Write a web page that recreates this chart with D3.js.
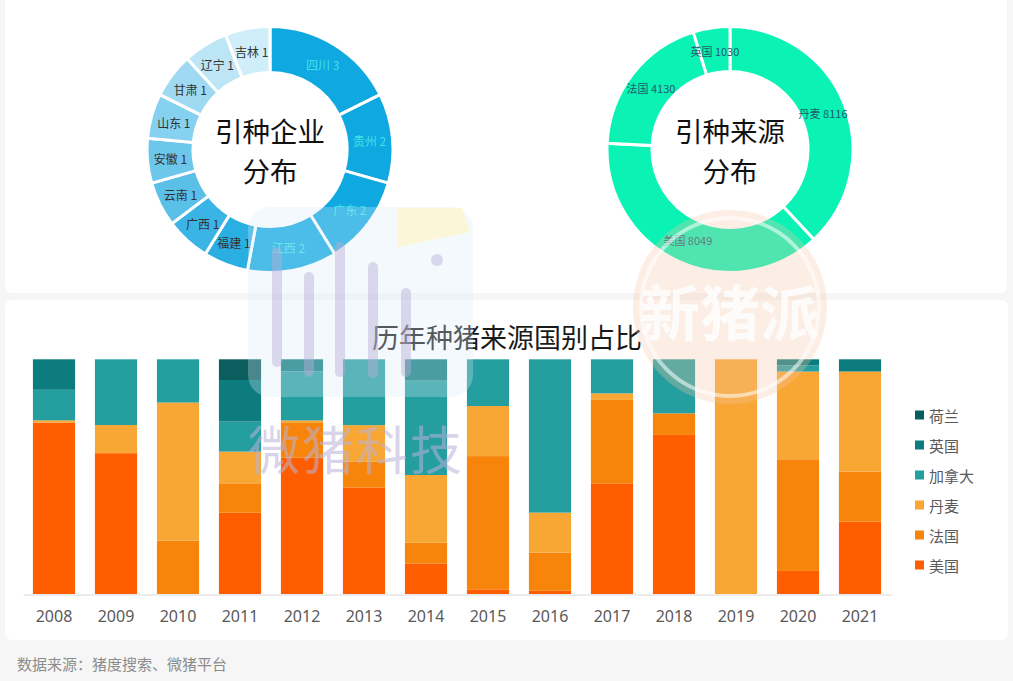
<!DOCTYPE html>
<html><head><meta charset="utf-8">
<script src="https://cdn.jsdelivr.net/npm/d3@7/dist/d3.min.js"></script>
<style>
html,body{margin:0;padding:0;background:#f6f6f6;}
svg{display:block;font-family:"Noto Sans CJK SC","Noto Sans",sans-serif;}
</style></head>
<body><svg id="c" width="1013" height="681"></svg>
<script>
// ---- data ----
const provinces = ["四川","贵州","广东","江西","福建","广西","云南","安徽","山东","甘肃","辽宁","吉林"];
const provinceCounts = [3,2,2,2,1,1,1,1,1,1,1,1];
const sourceCountries = ["丹麦","美国","法国","英国"];
const sourceCounts = [8116,8049,4130,1030];
const years = ["2008","2009","2010","2011","2012","2013","2014","2015","2016","2017","2018","2019","2020","2021"];
const seriesNames = ["美国","法国","丹麦","加拿大","英国","荷兰"];
const usa     = [73,60,0,34.6,58.4,45.2,13,2,1.4,47.1,67.7,0,9.8,30.8];
const france  = [0,0,22.7,12.5,15.2,11,8.8,56.7,16.2,35.5,9.2,0,47.5,21.3];
const denmark = [1,12,58.7,13.5,0.8,15.6,28.8,21.3,17,2.8,0,100,37.3,42.6];
const canada  = [13,28,18.4,12.8,21,28,40.1,19.9,65.2,14.5,23,0,2.6,0];
const uk      = [13,0,0,17.7,5.2,0,9.1,0,0,0,0,0,2.6,5.2];
const netherlands = [0,0,0,8.8,0,0,0,0,0,0,0,0,0,0];

const svg = d3.select("#c");

// cards
svg.append("rect").attr("x",5).attr("y",-8).attr("width",1002).attr("height",301).attr("rx",7).attr("fill","#fff");
svg.append("rect").attr("x",5).attr("y",300).attr("width",1003).attr("height",340).attr("rx",7).attr("fill","#fff");

// ---- left donut ----
const provColors = ["#10A8E1","#10A8E1","#10A8E1","#10A8E1","#2AAFE2","#3AB4E4","#5BC0E8","#6DC7EB","#86D1EF","#9FDAF2","#BCE5F6","#D0EEF9"];
const pie = d3.pie().sort(null).value(d=>d.v);
const provData = pie(provinces.map((p,i)=>({name:p,v:provinceCounts[i]})));
const arcL = d3.arc().innerRadius(77).outerRadius(123);
const labelArc = d3.arc().innerRadius(100).outerRadius(100);
const gL = svg.append("g").attr("transform","translate(270,149.5)");
gL.selectAll("path").data(provData).join("path")
  .attr("d",arcL).attr("fill",(d,i)=>provColors[i]).attr("stroke","#fff").attr("stroke-width",3);
gL.selectAll("text.lbl").data(provData).join("text").attr("class","lbl")
  .attr("transform",d=>`translate(${labelArc.centroid(d)})`)
  .attr("text-anchor","middle").attr("dominant-baseline","central")
  .attr("font-size",12).attr("fill",d=>d.data.v>1?"#3EE3E6":"#333")
  .text(d=>d.data.name+" "+d.data.v);
gL.append("text").attr("y",-19.5).attr("text-anchor","middle").attr("dominant-baseline","central")
  .attr("font-size",27.5).attr("fill","#111").text("引种企业");
gL.append("text").attr("y",20.5).attr("text-anchor","middle").attr("dominant-baseline","central")
  .attr("font-size",27.5).attr("fill","#111").text("分布");

// ---- right donut ----
const srcData = pie(sourceCountries.map((p,i)=>({name:p,v:sourceCounts[i]})));
const arcR = d3.arc().innerRadius(78).outerRadius(123);
const gR = svg.append("g").attr("transform","translate(730,149.5)");
gR.selectAll("path").data(srcData).join("path")
  .attr("d",arcR).attr("fill","#0AF3B5").attr("stroke","#fff").attr("stroke-width",3);
gR.selectAll("text.lbl").data(srcData).join("text").attr("class","lbl")
  .attr("transform",d=>`translate(${labelArc.centroid(d)})`)
  .attr("text-anchor","middle").attr("dominant-baseline","central")
  .attr("font-size",11).attr("fill","#245a6e")
  .text(d=>d.data.name+" "+d.data.v);
gR.append("text").attr("y",-19.5).attr("text-anchor","middle").attr("dominant-baseline","central")
  .attr("font-size",27.5).attr("fill","#111").text("引种来源");
gR.append("text").attr("y",20.5).attr("text-anchor","middle").attr("dominant-baseline","central")
  .attr("font-size",27.5).attr("fill","#111").text("分布");

// ---- stacked bars ----
const colors = ["#FF5E00","#F7850B","#F8A634","#249E9F","#0C7C7E","#0B5D5E"];
const seriesArrays = [usa,france,denmark,canada,uk,netherlands];
const rows = years.map((y,i)=>{const r={year:y}; seriesNames.forEach((s,j)=>r[s]=seriesArrays[j][i]); return r;});
const stack = d3.stack().keys(seriesNames).offset(d3.stackOffsetExpand);
const stacked = stack(rows);
const x = d3.scaleBand().domain(years).range([23,891]).paddingInner(0.32).paddingOuter(0.16);
const y = d3.scaleLinear().domain([0,1]).range([594,359.3]);
const gB = svg.append("g");
gB.selectAll("g").data(stacked).join("g").attr("fill",(d,i)=>colors[i])
  .selectAll("rect").data(d=>d).join("rect")
  .attr("x",d=>x(d.data.year)).attr("width",x.bandwidth())
  .attr("y",d=>y(d[1])).attr("height",d=>Math.max(0,y(d[0])-y(d[1])));
const xAxis = svg.append("g").attr("transform","translate(0,594.5)").call(d3.axisBottom(x).tickSize(0).tickPadding(16));
xAxis.select(".domain").attr("stroke","#d9d9d9");
xAxis.selectAll("text").attr("font-size",16).attr("fill","#595959").attr("font-family","'Noto Sans',sans-serif");

svg.append("text").attr("x",507).attr("y",336).attr("text-anchor","middle").attr("dominant-baseline","central")
  .attr("font-size",27).attr("fill","#1a1a1a").text("历年种猪来源国别占比");

// legend
const legendNames = seriesNames.slice().reverse();
const legendColors = colors.slice().reverse();
const gLeg = svg.append("g");
legendNames.forEach((n,i)=>{
  const cy = 415 + i*30;
  gLeg.append("rect").attr("x",915).attr("y",cy-4.5).attr("width",9).attr("height",9).attr("fill",legendColors[i]);
  gLeg.append("text").attr("x",929).attr("y",cy).attr("dominant-baseline","central")
    .attr("font-size",15).attr("fill","#595959").text(n);
});

// source
svg.append("text").attr("x",17).attr("y",663).attr("dominant-baseline","central")
  .attr("font-size",15).attr("fill","#8c8c8c").text("数据来源：猪度搜索、微猪平台");

// ---- watermarks ----
const wm = svg.append("g").attr("pointer-events","none");
wm.append("rect").attr("x",248).attr("y",207).attr("width",225).attr("height",190).attr("rx",22)
  .attr("fill","#d6ecf8").attr("opacity",0.3);
wm.append("path").attr("d","M398,208 L462,208 L470,232 L398,247 Z").attr("fill","#fff5c8").attr("opacity",0.7);
[[277,252,362],[309,277,372],[340,247,372],[373,267,373],[406,293,372]].forEach(b=>{
  wm.append("line").attr("x1",b[0]).attr("x2",b[0]).attr("y1",b[1]).attr("y2",b[2])
    .attr("stroke","#b9aed6").attr("stroke-width",10).attr("stroke-linecap","round").attr("opacity",0.45);
});
wm.append("circle").attr("cx",437).attr("cy",260).attr("r",6).attr("fill","#b9aed6").attr("opacity",0.45);
wm.append("text").attr("x",356).attr("y",447).attr("text-anchor","middle").attr("dominant-baseline","central")
  .attr("font-size",52).attr("fill","#b9b3dc").attr("opacity",0.55).attr("letter-spacing",2).text("微猪科技");
wm.append("circle").attr("cx",730).attr("cy",307).attr("r",97).attr("fill","#f6c7a4").attr("opacity",0.3);
wm.append("circle").attr("cx",730).attr("cy",307).attr("r",89).attr("fill","none").attr("stroke","#fff").attr("stroke-width",4).attr("opacity",0.55);
wm.append("text").attr("x",730).attr("y",309).attr("text-anchor","middle").attr("dominant-baseline","central")
  .attr("font-size",60).attr("font-weight","bold").attr("fill","#fff").attr("opacity",0.85).text("新猪派");
</script></body></html>
